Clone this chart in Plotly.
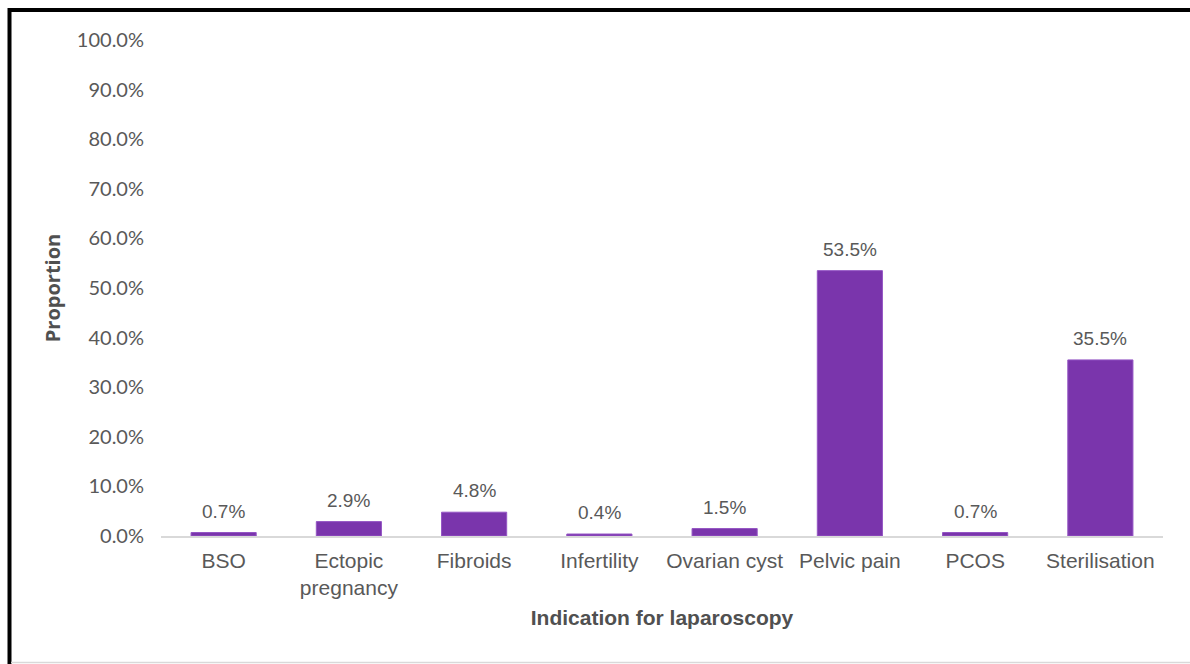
import plotly.graph_objects as go

categories = ["BSO", "Ectopic<br>pregnancy", "Fibroids", "Infertility", "Ovarian cyst",
              "Pelvic pain", "PCOS", "Sterilisation"]
values = [0.7, 2.9, 4.8, 0.4, 1.5, 53.5, 0.7, 35.5]
y_ticks = [0, 10, 20, 30, 40, 50, 60, 70, 80, 90, 100]
y_tick_text = [f"{v:.1f}%" for v in y_ticks]
labels = [f"{v}%" for v in values]

W, H = 1190, 664
L, R, T, B = 161, 27, 40, 128
pw, ph = W - L - R, H - T - B

def px(x):
    return (x - L) / pw

def py(y):
    return 1 - (y - T) / ph

fig = go.Figure()
fig.add_trace(go.Bar(
    x=categories, y=values, width=0.52,
    marker=dict(color="#7A35AC", line=dict(color="#9455C4", width=1)),
))

for c, v, t in zip(categories, values, labels):
    fig.add_annotation(x=c, y=v, text=t, showarrow=False, yanchor="bottom", yshift=9,
                       font=dict(family="Liberation Sans, Arial", size=19, color="#595959"))

fig.update_layout(
    width=W, height=H,
    margin=dict(l=L, r=R, t=T, b=B),
    paper_bgcolor="white", plot_bgcolor="white",
    showlegend=False,
    xaxis=dict(
        showline=True, linecolor="#D9D9D9", linewidth=1.5,
        ticks="", ticklabelstandoff=5,
        tickfont=dict(family="Liberation Sans, Arial", size=21, color="#595959"),
        title=dict(text="<b>Indication for laparoscopy</b>",
                   font=dict(family="Liberation Sans, Arial", size=21, color="#505050"),
                   standoff=12),
    ),
    yaxis=dict(
        range=[0, 100], tickvals=y_ticks, ticktext=y_tick_text,
        showgrid=False, zeroline=False, showline=False, ticks="",
        tickfont=dict(family="Lato, Open Sans", size=20, color="#595959"),
        ticklabelstandoff=16,
        title=dict(text="<b>Proportion</b>",
                   font=dict(family="Open Sans, Lato", size=20, color="#505050"),
                   standoff=10),
    ),
)

# outer frame
fig.add_shape(type="line", xref="paper", yref="paper",
              x0=px(9.5), x1=px(1200), y0=py(10), y1=py(10),
              line=dict(color="black", width=4))
fig.add_shape(type="line", xref="paper", yref="paper",
              x0=px(9.5), x1=px(9.5), y0=py(8), y1=py(670),
              line=dict(color="black", width=4))
fig.add_shape(type="line", xref="paper", yref="paper",
              x0=px(11), x1=px(1200), y0=py(662.5), y1=py(662.5),
              line=dict(color="#D9D9D9", width=1.5))

fig.write_html("out.html")
